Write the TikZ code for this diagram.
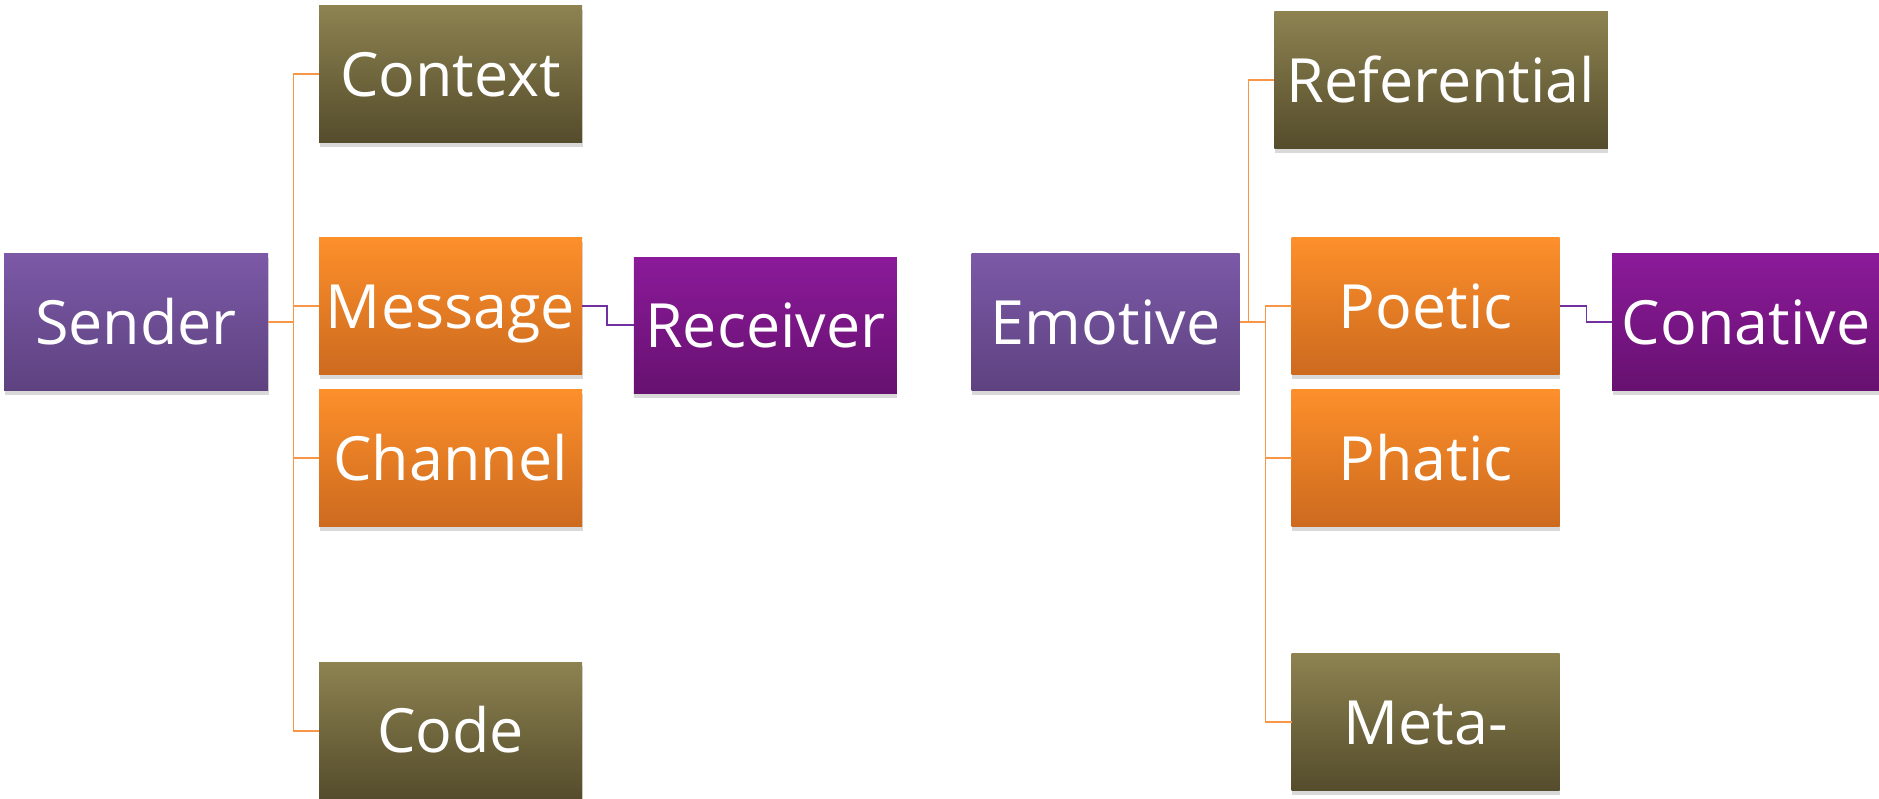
\documentclass[tikz,border=0pt]{standalone}
\usepackage{fontspec}
\setmainfont{Open Sans}
\usetikzlibrary{shadows,calc}
\definecolor{olivetop}{RGB}{141,130,80}
\definecolor{olivebot}{RGB}{84,76,44}
\definecolor{orangetop}{RGB}{253,143,43}
\definecolor{orangebot}{RGB}{204,106,30}
\definecolor{lavtop}{RGB}{123,89,167}
\definecolor{lavbot}{RGB}{94,66,128}
\definecolor{purtop}{RGB}{139,26,154}
\definecolor{purbot}{RGB}{103,17,112}
\definecolor{orangeline}{RGB}{247,150,70}
\definecolor{purpleline}{RGB}{112,48,160}
\tikzset{
  box/.style={rectangle, inner sep=0pt, minimum width=263pt, minimum height=136.7pt,
    text=white, font=\fontsize{61}{67}\selectfont, text height=44pt, text depth=0pt,
    drop shadow={shadow xshift=0.5pt, shadow yshift=-4pt, opacity=0.15, fill=black}},
  olivebox/.style={box, top color=olivetop, bottom color=olivebot},
  orangebox/.style={box, top color=orangetop, bottom color=orangebot},
  lavbox/.style={box, top color=lavtop, bottom color=lavbot},
  purbox/.style={box, top color=purtop, bottom color=purbot},
  oline/.style={draw=orangeline, line width=1.8pt},
  pline/.style={draw=purpleline, line width=1.8pt},
}
\begin{document}
\begin{tikzpicture}[x=1pt,y=-1pt]
\useasboundingbox (0,0) rectangle (1879,799);
\fill[white] (0,0) rectangle (1879,799);
% left tree
\node[lavbox, minimum width=264pt] (sender) at (136,322.3) {Sender};
\node[olivebox] (context) at (450.5,74.3) {Context};
\node[orangebox] (message) at (450.5,306.3) {Message};
\node[orangebox] (channel) at (450.5,458.3) {Channel};
\node[olivebox] (code) at (450.5,730.8) {Code};
\node[purbox] (receiver) at (765.3,325.4) {Receiver};
\coordinate (jl) at (293.5,322.3);
\draw[oline] (sender.east) -- (jl);
\draw[oline] (jl) |- (context.west);
\draw[oline] (jl) |- (message.west);
\draw[oline] (jl) |- (channel.west);
\draw[oline] (jl) |- (code.west);
\draw[pline] (message.east) -- ++(25,0) |- (receiver.west);
% right tree
\node[lavbox, minimum width=268pt] (emotive) at (1105.6,322.3) {Emotive};
\node[olivebox, minimum width=333.5pt] (referential) at (1441,80.3) {Referential};
\node[orangebox, minimum width=268pt] (poetic) at (1425.7,306.3) {Poetic};
\node[orangebox, minimum width=268pt] (phatic) at (1425.7,458.3) {Phatic};
\node[olivebox, minimum width=268pt] (meta) at (1425.7,722.3) {Meta-};
\node[purbox, minimum width=268pt] (conative) at (1746,322.3) {Conative};
\coordinate (jr1) at (1248.4,322.3);
\coordinate (jr2) at (1265.5,322.3);
\draw[oline] (emotive.east) -- (jr2);
\draw[oline] (jr1) |- (referential.west);
\draw[oline] (jr2) |- (poetic.west);
\draw[oline] (jr2) |- (phatic.west);
\draw[oline] (jr2) |- (meta.west);
\draw[pline] (poetic.east) -- ++(26.5,0) |- (conative.west);
\end{tikzpicture}
\end{document}
